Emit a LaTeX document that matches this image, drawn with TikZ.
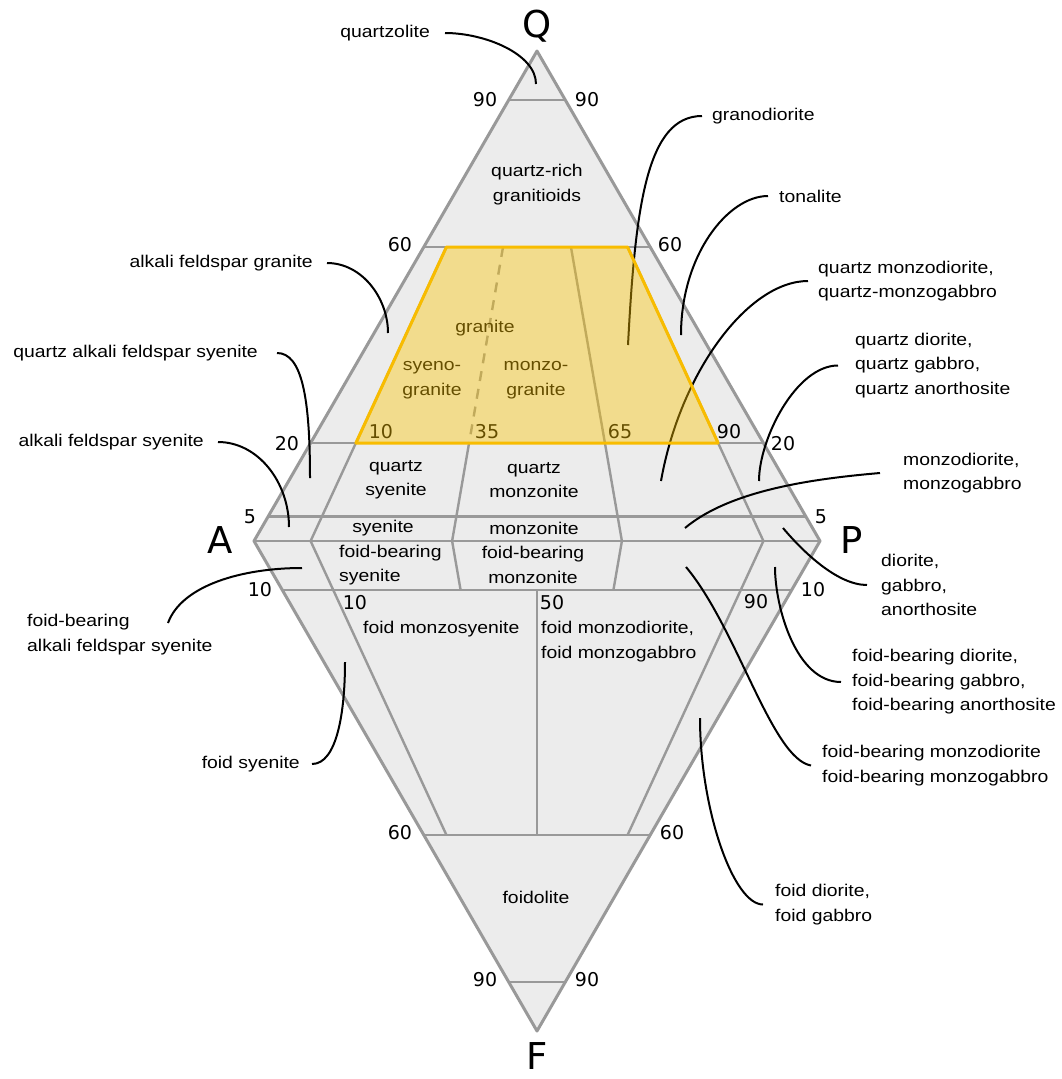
\documentclass[tikz,border=0pt]{standalone}
\usepackage{fontspec}
\setmainfont{Liberation Sans}
\newfontfamily\labelfont[FakeStretch=1.14]{Liberation Sans}
\newfontfamily\tickfont{DejaVu Sans}
\definecolor{fieldbg}{HTML}{ECECEC}
\definecolor{fieldgray}{HTML}{999999}
\definecolor{granitefill}{HTML}{FDC400}
\definecolor{graniteedge}{HTML}{F8BC00}
\tikzset{
    field/.style={draw=fieldgray,line width=2.4pt},
    rock/.style={font={\labelfont\fontsize{17}{24.5}\selectfont},inner sep=0pt},
    tick/.style={font={\tickfont\fontsize{19}{22}\selectfont},inner sep=0pt},
    apex/.style={font={\tickfont\fontsize{37}{40}\selectfont},inner sep=0pt},
    pointer/.style={line width=2pt}
}
\begin{document}
\begin{tikzpicture}[x=1pt,y=1pt]
    \fill[white] (0,0) rectangle (1062,-1079);
    \useasboundingbox (0,0) rectangle (1062,-1079);
    \coordinate (Q) at (537,-51);
    \coordinate (A) at (254,-541);
    \coordinate (P) at (820,-541);
    \coordinate (F) at (537,-1031);
    \fill[fieldbg] (Q) -- (P) -- (F) -- (A) -- cycle;
    \begin{scope}[shift={(A)},x={(566pt,0pt)},y={(283pt,490pt)}]
        \draw[field] (0,0) -- (1,0);
        \foreach \q in {0.9,0.6,0.2,0.05}
            \draw[field] (0,\q) -- ({1-\q},\q);
        \draw[field] (.04,.6) -- (.1,0);
        \draw[field,dash pattern=on 10pt off 8pt] (.14,.6) -- (.28,.2);
        \draw[field] (.28,.2) -- (.35,0);
        \draw[field] (.26,.6) -- (.65,0);
        \draw[field] (.36,.6) -- (.9,0);
    \end{scope}
    \begin{scope}[shift={(A)},x={(566pt,0pt)},y={(283pt,-490pt)}]
        \foreach \f in {0.1,0.6,0.9}
            \draw[field] (0,\f) -- ({1-\f},\f);
        \draw[field] (.1,0) -- (.04,.6);
        \draw[field] (.35,0) -- (.315,.1);
        \draw[field] (.65,0) -- (.585,.1);
        \draw[field] (.9,0) -- (.36,.6);
        \draw[field] (.45,.1) -- (.2,.6);
    \end{scope}
    \draw[field,line width=3pt,line join=round] (Q) -- (P) -- (F) -- (A) -- cycle;

    \node[apex] (lq) at (537,-26) {Q};
    \node[apex] (la) at (220,-540) {A};
    \node[apex] (lp) at (852,-540) {P};
    \node[apex] (lf) at (537,-1056) {F};

    \node[tick] (q90l) at (485,-100) {90};
    \node[tick] (q90r) at (587,-100) {90};
    \node[tick] (q60l) at (400,-245) {60};
    \node[tick] (q60r) at (670,-245) {60};
    \node[tick] (q20l) at (287,-444) {20};
    \node[tick] (q20r) at (783,-444) {20};
    \node[tick] (q5l) at (250,-517) {5};
    \node[tick] (q5r) at (821,-517) {5};
    \node[tick] (f10l) at (260,-590) {10};
    \node[tick] (f10r) at (813,-590) {10};
    \node[tick] (f60l) at (400,-833) {60};
    \node[tick] (f60r) at (672,-833) {60};
    \node[tick] (f90l) at (485,-980) {90};
    \node[tick] (f90r) at (587,-980) {90};
    \node[tick] (r10q) at (381,-432) {10};
    \node[tick] (r35q) at (487,-432) {35};
    \node[tick] (r65q) at (620,-432) {65};
    \node[tick] (r90q) at (729,-432) {90};
    \node[tick] (r10f) at (355,-603) {10};
    \node[tick] (r50f) at (552,-603) {50};
    \node[tick] (r90f) at (756,-602) {90};

    \node[rock,align=center] (qrg) at (537,-184.5) {quartz-rich\\granitioids};
    \node[rock] (gr) at (485,-328) {granite};
    \node[rock,align=center] (sgr) at (432,-380) {syeno-\\granite};
    \node[rock,align=center] (mgr) at (536,-380) {monzo-\\granite};
    \node[rock,align=center] (qsy) at (396,-480) {quartz\\syenite};
    \node[rock,align=center] (qmz) at (534,-480) {quartz\\monzonite};
    \node[rock] (sy) at (383,-528) {syenite};
    \node[rock] (mz) at (534,-528) {monzonite};
    \node[rock,anchor=west,align=left] (fbsy) at (339,-565) {foid-bearing\\syenite};
    \node[rock,align=center] (fbmz) at (533,-565) {foid-bearing\\monzonite};
    \node[rock,anchor=west] (fmsy) at (363,-629) {foid monzosyenite};
    \node[rock,anchor=west,align=left] (fmd) at (541,-641.5) {foid monzodiorite,\\foid monzogabbro};
    \node[rock] (fdl) at (536,-897) {foidolite};

    \node[rock,anchor=east] (qz) at (430,-33) {quartzolite};
    \node[rock,anchor=east] (afg) at (313,-263) {alkali feldspar granite};
    \node[rock,anchor=east] (qafs) at (258,-353) {quartz alkali feldspar syenite};
    \node[rock,anchor=east] (afs) at (204,-442) {alkali feldspar syenite};
    \node[rock,anchor=west,align=left] (fbafs) at (27,-634.5) {foid-bearing\\alkali feldspar syenite};
    \node[rock,anchor=east] (fs) at (300,-764) {foid syenite};
    \node[rock,anchor=west] (gd) at (712,-116) {granodiorite};
    \node[rock,anchor=west] (ton) at (779,-196) {tonalite};
    \node[rock,anchor=west,align=left] (qmd) at (818,-281) {quartz monzodiorite,\\quartz-monzogabbro};
    \node[rock,anchor=west,align=left] (qd) at (855,-365.5) {quartz diorite,\\quartz gabbro,\\quartz anorthosite};
    \node[rock,anchor=west,align=left] (md) at (903,-473) {monzodiorite,\\monzogabbro};
    \node[rock,anchor=west,align=left] (dio) at (881,-585) {diorite,\\gabbro,\\anorthosite};
    \node[rock,anchor=west,align=left] (fbd) at (852,-682) {foid-bearing diorite,\\foid-bearing gabbro,\\foid-bearing anorthosite};
    \node[rock,anchor=west,align=left] (fbmd) at (822,-765.5) {foid-bearing monzodiorite\\foid-bearing monzogabbro};
    \node[rock,anchor=west,align=left] (fd) at (775,-904.5) {foid diorite,\\foid gabbro};

    \coordinate (pqz) at (536,-84);
    \coordinate (pafg) at (388,-333);
    \coordinate (pqafs) at (310,-478);
    \coordinate (pafs) at (289,-527);
    \coordinate (pfbafs) at (302,-568);
    \coordinate (pfs) at (345,-662);
    \coordinate (pgd) at (628,-345);
    \coordinate (pton) at (681,-335);
    \coordinate (pqmd) at (661,-481);
    \coordinate (pqd) at (759,-481);
    \coordinate (pmd) at (685,-528);
    \coordinate (pdio) at (783,-528);
    \coordinate (pfbd) at (775,-567);
    \coordinate (pfbmd) at (686,-567);
    \coordinate (pfd) at (700,-718);

    \draw[pointer] ([xshift=15]qz.east) to[out=0,in=90,out distance=40,in distance=30] (pqz);
    \draw[pointer] ([xshift=14]afg.east) to[out=0,in=90,out distance=35,in distance=35] (pafg);
    \draw[pointer] ([xshift=19]qafs.east) to[out=0,in=90,out distance=25,in distance=80] (pqafs);
    \draw[pointer] ([xshift=14]afs.east) to[out=0,in=90,out distance=40,in distance=45] (pafs);
    \draw[pointer] ([shift={(141,11.5)}]fbafs.west) to[out=70,in=180,out distance=40,in distance=60] (pfbafs);
    \draw[pointer] ([xshift=12]fs.east) to[out=0,in=-90,out distance=25,in distance=50] (pfs);
    \draw[pointer] ([xshift=-10]gd.west) to[out=180,in=87,out distance=55,in distance=140] (pgd);
    \draw[pointer] ([xshift=-11]ton.west) to[out=180,in=90,out distance=40,in distance=80] (pton);
    \draw[pointer] ([xshift=-10]qmd.west) to[out=180,in=80,out distance=60,in distance=110] (pqmd);
    \draw[pointer] ([xshift=-17]qd.west) to[out=180,in=90,out distance=42,in distance=42] (pqd);
    \draw[pointer] ([xshift=-23]md.west) to[out=185,in=40,out distance=61,in distance=61] (pmd);
    \draw[pointer] ([xshift=-14]dio.west) to[out=180,in=-50,out distance=30,in distance=30] (pdio);
    \draw[pointer] ([xshift=-11]fbd.west) to[out=180,in=-90,out distance=45,in distance=40] (pfbd);
    \draw[pointer] ([xshift=-11]fbmd.west) to[out=170,in=-50,out distance=40,in distance=80] (pfbmd);
    \draw[pointer] ([xshift=-12]fd.west) to[out=180,in=-90,out distance=30,in distance=90] (pfd);

    \begin{scope}[shift={(A)},x={(566pt,0pt)},y={(283pt,490pt)}]
        \fill[granitefill,fill opacity=0.4] (.04,.6) -- (.36,.6) -- (.72,.2) -- (.08,.2) -- cycle;
        \draw[graniteedge,line width=3pt,line join=round] (.04,.6) -- (.36,.6) -- (.72,.2) -- (.08,.2) -- cycle;
    \end{scope}
\end{tikzpicture}
\end{document}
